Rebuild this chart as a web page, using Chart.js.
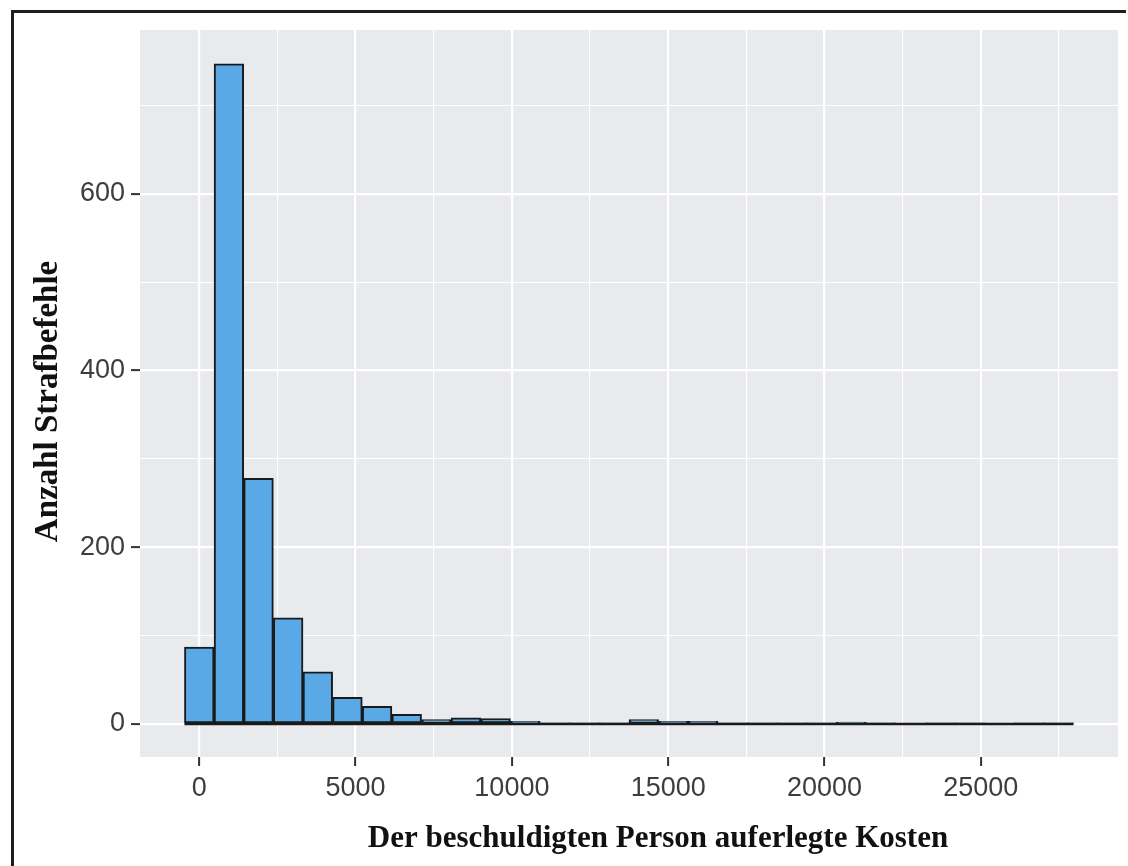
<!DOCTYPE html>
<html>
<head>
<meta charset="utf-8">
<script src="https://cdn.jsdelivr.net/npm/chart.js@4.4.1/dist/chart.umd.min.js"></script>
<style>
  body { margin: 0; background: #fff; }
  #wrap { position: relative; width: 1128px; height: 866px; overflow: hidden; }
  #frameTop { position: absolute; left: 11px; top: 10px; width: 1115px; height: 3px; background: #1e1e1e; }
  #frameLeft { position: absolute; left: 11px; top: 10px; width: 3px; height: 856px; background: #1e1e1e; }
</style>
</head>
<body>
<div id="wrap">
  <canvas id="histChart" width="1128" height="866"></canvas>
  <div id="frameTop"></div>
  <div id="frameLeft"></div>
</div>
<script>
// Histogramm: Kosten pro Strafbefehl (30 Klassen, Breite ~948)
const binWidth = 948;
const binCenters = [0, 948, 1896, 2844, 3792, 4740, 5688, 6636, 7584, 8532,
  9480, 10428, 11376, 12324, 13272, 14220, 15168, 16116, 17064, 18012,
  18960, 19908, 20856, 21804, 22752, 23700, 24648, 25596, 26544, 27492];
const counts = [87, 747, 278, 120, 59, 30, 20, 11, 5, 7,
  6, 3, 1, 1, 1, 5, 3, 3, 1, 1,
  1, 1, 2, 1, 0, 1, 1, 0, 1, 1];

const xTicks = [0, 2500, 5000, 7500, 10000, 12500, 15000, 17500, 20000, 22500, 25000, 27500];
const xLabels = [0, 5000, 10000, 15000, 20000, 25000];
const yTicks = [0, 100, 200, 300, 400, 500, 600, 700];
const yLabels = [0, 200, 400, 600];

const xTitle = "Der beschuldigten Person auferlegte Kosten";
const yTitle = "Anzahl Strafbefehle";

const isMajor = (c, list) => !!(c.tick && list.includes(c.tick.value));

const panelBg = {
  id: "panelBg",
  beforeDraw(chart) {
    const { ctx, chartArea: a } = chart;
    ctx.save();
    ctx.fillStyle = "#e9eaee";
    ctx.fillRect(a.left, a.top, a.right - a.left, a.bottom - a.top);
    ctx.restore();
  }
};

// ggplot zeichnet auch leere Klassen als Linie bei 0
const zeroLine = {
  id: "zeroLine",
  afterDatasetsDraw(chart) {
    const { ctx, scales: { x, y } } = chart;
    const y0 = y.getPixelForValue(0);
    ctx.save();
    ctx.strokeStyle = "#1a1a1a";
    ctx.lineWidth = 2.5;
    ctx.beginPath();
    ctx.moveTo(x.getPixelForValue(binCenters[0] - binWidth / 2), y0);
    ctx.lineTo(x.getPixelForValue(binCenters[binCenters.length - 1] + binWidth / 2), y0);
    ctx.stroke();
    ctx.restore();
  }
};

// Achsentitel etwas versetzt wie im Original (Scan)
const axisTitles = {
  id: "axisTitles",
  afterDraw(chart) {
    const { ctx, chartArea: a } = chart;
    ctx.save();
    ctx.fillStyle = "#111111";
    ctx.textAlign = "center";
    ctx.textBaseline = "alphabetic";
    ctx.font = "bold 31px 'Liberation Serif', 'Times New Roman', serif";
    ctx.fillText(xTitle, (a.left + a.right) / 2 + 29, 847);
    ctx.translate(57, (a.top + a.bottom) / 2 + 8);
    ctx.rotate(-Math.PI / 2);
    ctx.font = "bold 33px 'Liberation Serif', 'Times New Roman', serif";
    ctx.fillText(yTitle, 0, 0);
    ctx.restore();
  }
};

const tickFont = { family: "'Liberation Sans', Arial, sans-serif", size: 27 };

new Chart(document.getElementById("histChart"), {
  type: "bar",
  data: {
    datasets: [{
      data: binCenters.map((c, i) => ({ x: c, y: counts[i] })),
      backgroundColor: "#58a9e6",
      borderColor: "#1a1a1a",
      borderWidth: 2,
      borderSkipped: false,
      barPercentage: 1,
      categoryPercentage: 1
    }]
  },
  options: {
    responsive: false,
    animation: false,
    layout: { padding: { left: 0, top: 30, right: 10, bottom: 0 } },
    plugins: { legend: { display: false }, tooltip: { enabled: false } },
    scales: {
      x: {
        type: "linear",
        offset: false,
        min: -1896,
        max: 29388,
        afterBuildTicks: s => { s.ticks = xTicks.map(v => ({ value: v })); },
        afterFit: s => { s.height = 109; },
        border: { display: false },
        grid: {
          offset: false,
          color: "#ffffff",
          lineWidth: c => isMajor(c, xLabels) ? 2.2 : 1.1,
          tickColor: c => isMajor(c, xLabels) ? "#333333" : "rgba(0,0,0,0)",
          tickLength: 9,
          tickWidth: 2
        },
        ticks: {
          autoSkip: false,
          maxRotation: 0,
          padding: 6,
          color: "#3d3d3d",
          font: tickFont,
          callback: v => xLabels.includes(v) ? String(v) : ""
        },
        title: { display: false }
      },
      y: {
        min: -37.4,
        max: 785.4,
        afterBuildTicks: s => { s.ticks = yTicks.map(v => ({ value: v })); },
        afterFit: s => { s.width = 140; },
        border: { display: false },
        grid: {
          color: "#ffffff",
          lineWidth: c => isMajor(c, yLabels) ? 2.2 : 1.1,
          tickColor: c => isMajor(c, yLabels) ? "#333333" : "rgba(0,0,0,0)",
          tickLength: 9,
          tickWidth: 2
        },
        ticks: {
          autoSkip: false,
          padding: 6,
          color: "#3d3d3d",
          font: tickFont,
          callback: v => yLabels.includes(v) ? String(v) : ""
        },
        title: { display: false }
      }
    }
  },
  plugins: [panelBg, zeroLine, axisTitles]
});
</script>
</body>
</html>
